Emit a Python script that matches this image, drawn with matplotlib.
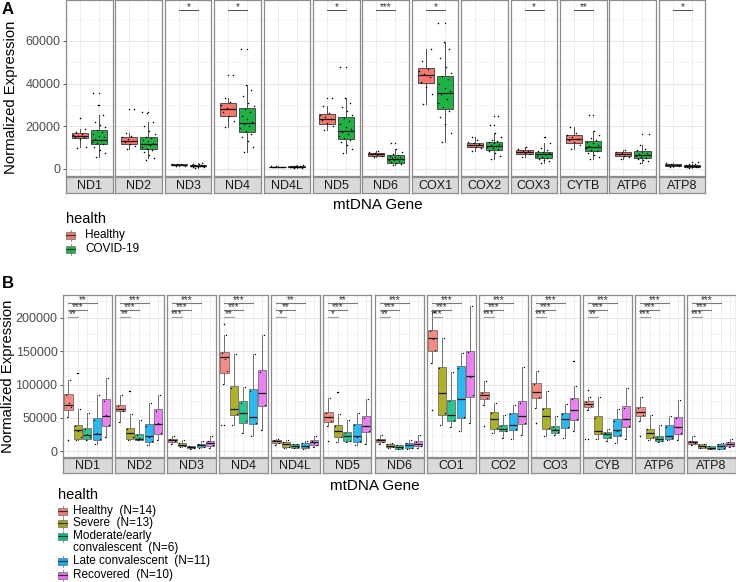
import numpy as np
import matplotlib.pyplot as plt
from matplotlib.patches import Rectangle

plt.rcParams['font.family'] = ['Liberation Sans', 'DejaVu Sans']

# ---------------- panel A data (values in thousands) ----------------
genes_a = ['ND1', 'ND2', 'ND3', 'ND4', 'ND4L', 'ND5', 'ND6',
           'COX1', 'COX2', 'COX3', 'CYTB', 'ATP6', 'ATP8']
groups_a = ['Healthy', 'COVID-19']
colors_a = ['#F8766D', '#1EB244']

# whislo, q1, med, q3, whishi
a_healthy_box = [
    [10.5, 14.7, 15.6, 16.7, 18.6], [9.4, 11.7, 13.3, 15.1, 17.0],
    [1.3, 1.7, 1.9, 2.1, 2.5], [19.8, 25.0, 28.0, 30.7, 33.4],
    [0.7, 0.9, 1.0, 1.1, 1.3], [18.3, 21.2, 23.5, 25.7, 29.5],
    [5.4, 6.1, 6.9, 7.6, 8.2], [30.3, 40.1, 44.0, 47.1, 56.0],
    [8.4, 10.3, 11.2, 12.3, 15.1], [5.8, 7.2, 8.0, 8.9, 10.5],
    [9.2, 12.0, 14.0, 15.9, 19.8], [4.5, 6.1, 7.0, 8.1, 8.9],
    [1.1, 1.5, 1.8, 2.1, 2.6]]
a_healthy_out = [[23.8], [27.9], [], [44.0], [], [33.4], [], [], [], [], [], [], []]

a_covid_box = [
    [5.8, 11.7, 13.6, 18.2, 25.3], [5.0, 9.4, 11.7, 14.8, 22.0],
    [0.6, 1.2, 1.5, 1.8, 2.6], [8.1, 17.5, 21.4, 28.7, 39.3],
    [0.5, 0.8, 1.0, 1.2, 1.7], [7.6, 13.9, 17.9, 24.5, 33.4],
    [1.9, 3.0, 4.7, 6.6, 9.5], [12.5, 27.9, 35.7, 43.5, 59.6],
    [4.5, 9.0, 10.9, 12.8, 16.7], [2.7, 5.3, 7.0, 8.1, 12.0],
    [4.5, 8.4, 10.5, 13.1, 17.8], [2.7, 5.3, 6.6, 8.6, 11.2],
    [0.5, 1.0, 1.3, 1.7, 2.4]]
a_covid_out = [[30.0, 35.5], [26.5], [], [56.2], [], [47.6], [12.0], [68.2],
               [20.5, 24.8], [15.1], [25.3], [16.4], [3.4]]

a_healthy_pts = [
    [9.6, 10.5, 13.9, 14.8, 15.2, 15.6, 16.0, 16.6, 17.4, 18.6, 23.8],
    [9.4, 10.8, 11.9, 12.6, 13.2, 13.9, 14.8, 15.4, 17.0, 27.9],
    [1.3, 1.6, 1.8, 1.9, 2.0, 2.1, 2.3, 2.5],
    [19.8, 22.5, 24.8, 26.5, 27.9, 28.8, 30.2, 31.5, 33.4, 44.0],
    [0.7, 0.9, 1.0, 1.0, 1.1, 1.2, 1.3],
    [18.3, 20.0, 21.5, 22.8, 23.6, 24.4, 25.5, 26.4, 29.5, 33.4],
    [5.4, 6.0, 6.4, 6.8, 7.1, 7.5, 7.9, 8.2],
    [30.3, 35.0, 38.5, 40.8, 43.0, 44.5, 45.8, 47.0, 50.5, 56.0],
    [8.4, 9.8, 10.5, 11.0, 11.5, 12.0, 12.6, 13.5, 15.1],
    [5.8, 6.9, 7.4, 7.9, 8.2, 8.6, 9.2, 10.5],
    [9.2, 11.0, 12.5, 13.4, 14.2, 15.0, 15.8, 17.0, 19.8],
    [4.5, 5.6, 6.3, 6.8, 7.2, 7.6, 8.1, 8.9],
    [1.1, 1.4, 1.6, 1.8, 2.0, 2.2, 2.6]]

a_covid_pts = [
    [5.8, 7.5, 9.0, 10.5, 11.5, 12.0, 12.8, 13.4, 14.0, 14.8, 15.6, 16.5, 17.4, 18.2, 19.5, 20.5, 22.0, 25.3, 30.0, 35.5],
    [4.0, 5.0, 6.5, 7.8, 8.8, 9.5, 10.2, 11.0, 11.6, 12.2, 12.9, 13.6, 14.3, 15.0, 16.5, 18.0, 20.0, 22.0, 26.0, 26.5],
    [0.6, 0.8, 1.0, 1.1, 1.2, 1.3, 1.4, 1.4, 1.5, 1.5, 1.6, 1.7, 1.8, 1.9, 2.0, 2.2, 2.4, 2.6],
    [8.1, 10.5, 13.0, 15.0, 16.5, 17.8, 19.0, 20.2, 21.0, 22.0, 23.5, 25.0, 26.5, 28.0, 29.5, 31.0, 34.0, 37.0, 39.3, 56.2],
    [0.5, 0.6, 0.7, 0.8, 0.9, 0.9, 1.0, 1.0, 1.1, 1.1, 1.2, 1.3, 1.4, 1.5, 1.7],
    [7.6, 9.5, 11.0, 12.5, 13.8, 14.5, 15.5, 16.5, 17.5, 18.5, 19.5, 21.0, 22.5, 24.0, 25.5, 27.0, 29.0, 31.0, 33.4, 47.6],
    [1.9, 2.4, 2.8, 3.2, 3.6, 4.0, 4.4, 4.7, 5.0, 5.4, 5.8, 6.2, 6.6, 7.2, 8.0, 9.5, 12.0],
    [12.5, 17.0, 21.0, 24.5, 27.0, 29.0, 31.0, 33.0, 35.0, 36.5, 38.0, 40.0, 42.0, 43.5, 45.0, 48.0, 52.0, 56.0, 59.6, 68.2],
    [4.5, 6.0, 7.5, 8.5, 9.2, 9.8, 10.4, 10.8, 11.2, 11.6, 12.0, 12.5, 13.0, 13.8, 15.0, 16.7, 20.5, 24.8],
    [2.7, 3.5, 4.2, 4.8, 5.3, 5.8, 6.3, 6.8, 7.1, 7.5, 7.9, 8.3, 9.0, 10.0, 12.0, 15.1],
    [4.5, 5.5, 6.5, 7.5, 8.3, 9.0, 9.7, 10.3, 10.8, 11.4, 12.0, 12.8, 13.5, 14.5, 16.0, 17.8, 25.3],
    [2.7, 3.5, 4.2, 4.8, 5.3, 5.8, 6.3, 6.7, 7.1, 7.6, 8.1, 8.7, 9.5, 11.2, 16.4],
    [0.5, 0.7, 0.9, 1.0, 1.1, 1.2, 1.3, 1.4, 1.5, 1.6, 1.7, 1.9, 2.1, 2.4, 3.4]]

a_signif = ['', '', '*', '*', '', '*', '***', '*', '', '*', '**', '', '*']
a_ticks = [0, 20000, 40000, 60000]

# ---------------- panel B data (values in thousands) ----------------
genes_b = ['ND1', 'ND2', 'ND3', 'ND4', 'ND4L', 'ND5', 'ND6',
           'CO1', 'CO2', 'CO3', 'CYB', 'ATP6', 'ATP8']
groups_b = ['Healthy  (N=14)', 'Severe  (N=13)', 'Moderate/early\nconvalescent  (N=6)',
            'Late convalescent  (N=11)', 'Recovered  (N=10)']
colors_b = ['#F8766D', '#A3A500', '#00BF7D', '#00B0F6', '#E76BF3']

# per gene: Healthy, Severe, Moderate, Late, Recovered -> whislo, q1, med, q3, whishi
b_box = [
    [[51.5, 61.5, 69.0, 85.5, 106.5], [16.5, 19.0, 31.5, 40.0, 64.0], [17.5, 19.0, 25.0, 35.5, 57.5], [10.5, 17.5, 26.5, 50.5, 85.0], [21.5, 37.5, 52.5, 78.0, 110.5]],
    [[44.0, 60.5, 64.0, 69.0, 84.0], [17.5, 19.0, 27.5, 35.5, 56.5], [16.5, 17.5, 19.0, 26.5, 46.5], [9.0, 14.0, 22.5, 40.5, 72.5], [16.5, 26.5, 40.5, 64.0, 85.0]],
    [[11.5, 14.0, 16.5, 19.0, 23.0], [6.5, 7.5, 10.0, 12.5, 16.5], [4.0, 5.0, 6.5, 8.0, 8.5], [5.0, 6.5, 9.0, 11.5, 15.0], [5.5, 8.0, 12.5, 15.5, 22.5]],
    [[101.5, 117.5, 140.5, 148.0, 174.0], [39.0, 54.0, 63.0, 97.5, 145.5], [27.5, 43.0, 57.5, 75.5, 96.5], [23.0, 41.5, 51.5, 94.0, 145.0], [31.5, 68.0, 87.5, 121.5, 174.0]],
    [[9.0, 13.0, 15.5, 17.5, 19.0], [4.5, 6.5, 11.5, 14.0, 17.0], [4.5, 5.5, 8.0, 10.5, 11.5], [4.0, 5.5, 8.0, 12.5, 15.0], [6.5, 9.0, 13.5, 16.5, 23.0]],
    [[38.0, 44.0, 51.5, 59.0, 80.5], [14.0, 21.5, 30.0, 39.0, 56.5], [14.0, 15.5, 23.0, 29.0, 46.5], [9.0, 14.0, 22.5, 40.5, 57.5], [11.5, 29.0, 38.0, 52.5, 78.0]],
    [[11.0, 14.0, 16.5, 19.0, 25.0], [4.5, 6.5, 8.5, 10.5, 12.5], [3.0, 4.0, 6.0, 9.0, 10.0], [3.5, 5.0, 9.0, 13.0, 17.0], [5.0, 7.5, 11.5, 15.0, 24.0]],
    [[131.5, 150.5, 169.0, 181.5, 208.0], [40.0, 55.0, 87.5, 126.5, 170.0], [36.5, 45.5, 54.0, 77.5, 118.0], [30.0, 50.5, 79.0, 128.0, 146.5], [42.5, 81.5, 112.5, 150.5, 217.5]],
    [[70.0, 79.0, 84.0, 89.0, 105.0], [28.0, 33.0, 49.0, 59.0, 73.0], [20.5, 30.0, 34.0, 39.0, 54.0], [18.0, 31.5, 39.0, 58.0, 69.0], [25.0, 40.5, 53.0, 75.5, 126.5]],
    [[65.0, 80.0, 89.0, 103.0, 120.5], [23.0, 33.0, 53.0, 65.0, 90.5], [25.0, 28.0, 32.5, 38.0, 52.5], [20.5, 35.0, 48.0, 58.0, 71.5], [30.0, 46.5, 62.5, 80.5, 97.5]],
    [[61.5, 66.5, 71.5, 75.0, 81.5], [19.0, 26.5, 30.0, 52.5, 81.5], [16.0, 20.0, 25.5, 29.0, 33.0], [13.0, 23.0, 31.5, 48.0, 64.0], [19.0, 36.5, 48.0, 67.5, 95.0]],
    [[45.0, 52.5, 59.0, 66.5, 81.5], [16.5, 20.5, 27.5, 34.0, 54.0], [14.0, 15.0, 19.0, 22.5, 40.0], [16.5, 19.0, 23.0, 39.0, 53.0], [16.5, 25.5, 36.5, 51.5, 76.5]],
    [[10.0, 11.5, 13.5, 15.5, 22.5], [4.5, 5.5, 8.0, 10.5, 11.5], [3.0, 4.0, 5.5, 7.5, 8.0], [3.0, 4.0, 8.0, 11.5, 13.0], [6.0, 7.5, 11.5, 14.0, 19.0]]]

b_pts = [
    [[51.5, 66, 72, 84, 106.5, 17.5], [16.5, 22, 31, 38, 64, 117.5], [17.5, 21, 26, 34, 57.5], [10.5, 18, 27, 47, 85], [21.5, 40, 55, 75, 110.5]],
    [[44, 61, 64, 68, 84], [17.5, 21, 28, 34, 56.5, 90.5], [16.5, 18, 20, 25, 46.5], [9, 15, 22, 38, 72.5], [16.5, 28, 42, 60, 85]],
    [[11.5, 15, 17, 19, 23], [6.5, 8, 10, 12, 16.5], [4, 5.5, 6.5, 8], [5, 7, 9, 11, 15], [5.5, 9, 12, 15, 22.5]],
    [[101.5, 120, 138, 147, 174, 190.5, 40], [39, 56, 64, 95, 145.5], [27.5, 45, 58, 73, 96.5], [23, 43, 52, 90, 145], [31.5, 70, 88, 118, 174]],
    [[9, 13, 15.5, 17.5, 19], [4.5, 7, 11, 14, 17], [4.5, 6, 8, 10.5, 11.5], [4, 6, 8, 12, 15], [6.5, 9.5, 13, 16, 23]],
    [[38, 45, 52, 58, 80.5, 15.5], [14, 22, 30, 38, 56.5, 89], [14, 16, 23, 28, 46.5], [9, 15, 22, 40, 57.5], [11.5, 30, 38, 50, 78]],
    [[11, 14.5, 16.5, 19, 25], [4.5, 7, 8.5, 10.5, 12.5], [3, 4.5, 6, 9], [3.5, 5.5, 9, 12.5, 17], [5, 8, 11.5, 14.5, 24]],
    [[131.5, 152, 168, 180, 208, 62.5], [40, 58, 88, 124, 170], [36.5, 47, 54, 76, 118], [30, 52, 78, 125, 146.5], [42.5, 85, 112, 148, 217.5]],
    [[70, 80, 84, 88, 105, 37.5], [28, 35, 49, 58, 73], [20.5, 31, 34, 38, 54], [18, 33, 39, 56, 69], [25, 42, 53, 72, 126.5]],
    [[65, 82, 89, 101, 120.5, 42.5], [23, 35, 53, 63, 90.5], [25, 29, 33, 37, 52.5], [20.5, 36, 48, 56, 71.5], [30, 48, 62, 78, 97.5, 135.5]],
    [[61.5, 68, 71.5, 74, 81.5, 92.5, 19], [19, 27, 30, 50, 81.5], [16, 21, 25.5, 28, 33], [13, 24, 31, 46, 64], [19, 38, 48, 65, 95]],
    [[45, 54, 59, 65, 81.5, 23], [16.5, 22, 27.5, 33, 54], [14, 16, 19, 22, 40], [16.5, 20, 23, 37, 53], [16.5, 27, 36, 50, 76.5]],
    [[10, 12, 13.5, 15, 22.5], [4.5, 6, 8, 10, 11.5], [3, 4.5, 5.5, 7.5], [3, 4.5, 8, 11, 13], [6, 8, 11.5, 13.5, 19]]]

b_out = [
    [[17.5], [117.5], [], [], []], [[], [90.5], [], [], []], [[], [], [], [], []],
    [[40.0, 190.5], [], [], [], []], [[], [], [], [], []], [[15.5], [89.0], [], [], []],
    [[], [], [], [], []], [[62.5], [], [], [], []], [[37.5], [], [], [], []],
    [[42.5], [], [], [], [135.5]], [[92.5, 19.0], [], [], [], []], [[23.0], [], [], [], []],
    [[], [], [], [], []]]

# Healthy vs Severe, Healthy vs Moderate, Healthy vs Late
b_signif = [
    ['**', '***', '**'], ['**', '***', '***'], ['***', '***', '***'], ['**', '***', '***'],
    ['*', '**', '**'], ['*', '***', '**'], ['**', '***', '***'], ['***', '***', '***'],
    ['***', '***', '***'], ['***', '***', '***'], ['**', '***', '***'], ['***', '***', '***'],
    ['***', '***', '***']]
b_ticks = [0, 50000, 100000, 150000, 200000]

# ---------------- layout helpers ----------------
W, H = 736, 582
fig = plt.figure(figsize=(W / 100, H / 100), dpi=100)


def px_axes(x0, y0, x1, y1):
    return fig.add_axes([x0 / W, 1 - y1 / H, (x1 - x0) / W, (y1 - y0) / H])


def jitter(n, width):
    return ((np.arange(n) * 0.618 + 0.3) % 1 - 0.5) * width


def style_panel(ax, ylim, ticks, minor, xcenters, first):
    ax.set_xlim(0, 1)
    ax.set_ylim(*ylim)
    for y in minor:
        ax.axhline(y, color='#F2F2F2', lw=0.5, zorder=0)
    for y in ticks:
        ax.axhline(y, color='#E5E5E5', lw=0.7, zorder=0)
    for x in xcenters:
        ax.axvline(x, color='#EBEBEB', lw=0.6, zorder=0)
    for s in ax.spines.values():
        s.set_color('#8C8C8C')
        s.set_linewidth(0.9)
    ax.set_xticks([])
    ax.set_yticks(ticks)
    ax.tick_params(axis='y', length=2.5, width=0.6, color='#333333', pad=1.5,
                   labelsize=9, labelcolor='#4D4D4D')
    if not first:
        ax.set_yticklabels([])
        ax.tick_params(axis='y', length=0)
    else:
        ax.set_yticklabels([str(t) for t in ticks])


def strip(x0, x1, y0, y1, label):
    sx = px_axes(x0, y0, x1, y1)
    sx.set_facecolor('#D9D9D9')
    sx.set_xticks([])
    sx.set_yticks([])
    for s in sx.spines.values():
        s.set_color('#8C8C8C')
        s.set_linewidth(0.9)
    sx.text(0.5, 0.45, label, ha='center', va='center', fontsize=9,
            color='#1A1A1A', transform=sx.transAxes)


def draw_boxes(ax, stats, outs, pts, cols, centers, width, alpha, edge, jw, psize):
    for k in range(len(stats)):
        lo, q1, med, q3, hi = [v * 1000 for v in stats[k]]
        st = [{'whislo': lo, 'q1': q1, 'med': med, 'q3': q3, 'whishi': hi,
               'fliers': [v * 1000 for v in outs[k]]}]
        ax.bxp(st, positions=[centers[k]], widths=width, patch_artist=True,
               showcaps=False, manage_ticks=False,
               boxprops=dict(facecolor=cols[k], edgecolor=edge, linewidth=0.7, alpha=alpha),
               medianprops=dict(color='#1A1A1A', linewidth=0.9),
               whiskerprops=dict(color=edge, linewidth=0.7),
               flierprops=dict(marker='o', markersize=1.0, markerfacecolor='black',
                               markeredgecolor='none'))
        vals = np.array(pts[k]) * 1000
        ax.scatter(centers[k] + jitter(len(vals), jw), vals, s=psize, color='black',
                   linewidths=0, zorder=5)


# overlay for annotation text / legends
lax = px_axes(0, 0, W, H)
lax.set_xlim(0, W)
lax.set_ylim(H, 0)
lax.axis('off')

# ---------------- panel A ----------------
a_left, a_top, a_bot = 66, 0, 176
a_pitch, a_w = 49.4, 46.5
a_centers = [0.3, 0.71]
for i, g in enumerate(genes_a):
    x0 = a_left + i * a_pitch
    ax = px_axes(x0, a_top, x0 + a_w, a_bot)
    style_panel(ax, (-3300, 79200), a_ticks, [10000, 30000, 50000, 70000],
                a_centers, i == 0)
    draw_boxes(ax, [a_healthy_box[i], a_covid_box[i]], [a_healthy_out[i], a_covid_out[i]],
               [a_healthy_pts[i], a_covid_pts[i]], colors_a, a_centers, 0.35, 1.0,
               '#4D4D4D', 0.3, 1.2)
    if a_signif[i]:
        ax.plot(a_centers, [74500, 74500], color='#4D4D4D', lw=0.7)
        ax.text(np.mean(a_centers), 74500, a_signif[i], ha='center', va='baseline',
                fontsize=7, color='#333333')
    strip(x0, x0 + a_w, a_bot + 1, a_bot + 17, g)

lax.text(2, 10, 'A', fontsize=12, fontweight='bold', va='center', ha='left')
lax.text(11, 97, 'Normalized Expression', rotation=90, fontsize=10.7,
         ha='center', va='center')
lax.text(378, 205, 'mtDNA Gene', fontsize=11, ha='center', va='center')


def legend(title, labels, cols, x, ytitle, rows, xt):
    lax.text(x, ytitle, title, fontsize=10.5, ha='left', va='center')
    for lab, c, y in zip(labels, cols, rows):
        lax.plot([x + 4.5, x + 4.5], [y - 5.5, y + 5.5], color='#7F7F7F', lw=0.6)
        lax.add_patch(Rectangle((x, y - 3.5), 9, 7, facecolor=c, edgecolor='#7F7F7F',
                                lw=0.6, zorder=3))
        lax.plot([x, x + 9], [y, y], color='#333333', lw=0.8, zorder=4)
        for j, line in enumerate(lab.split('\n')):
            lax.text(xt, y + 12 * j, line, fontsize=8.5, ha='left', va='center')


legend('health', groups_a, colors_a, 66, 219, [235, 249], 85)

# ---------------- panel B ----------------
b_left, b_top, b_bot = 63, 295, 457
b_pitch, b_w = 52, 48.5
b_centers = [0.113, 0.305, 0.5, 0.695, 0.887]
for i, g in enumerate(genes_b):
    x0 = b_left + i * b_pitch
    ax = px_axes(x0, b_top, x0 + b_w, b_bot)
    style_panel(ax, (-8500, 234000), b_ticks, [25000, 75000, 125000, 175000, 225000],
                b_centers, i == 0)
    draw_boxes(ax, b_box[i], b_out[i], b_pts[i], colors_b, b_centers, 0.17, 0.85,
               '#6E6E6E', 0.14, 0.9)
    for k, (lab, yv) in enumerate(zip(b_signif[i], [201500, 211500, 221500])):
        xe = b_centers[k + 1]
        ax.plot([b_centers[0], xe], [yv, yv], color='#A0A0A0' if k == 0 else '#7A7A7A', lw=0.8)
        ax.text((b_centers[0] + xe) / 2, yv, lab, ha='center', va='baseline',
                fontsize=7, color='#333333')
    strip(x0, x0 + b_w, b_bot + 1, b_bot + 16, g)

lax.text(2, 283, 'B', fontsize=12, fontweight='bold', va='center', ha='left')
lax.text(8.5, 376, 'Normalized Expression', rotation=90, fontsize=10.7,
         ha='center', va='center')
lax.text(375, 486, 'mtDNA Gene', fontsize=11, ha='center', va='center')

legend('health', groups_b, colors_b, 58, 495, [511, 523, 536, 561, 575], 73)

fig.savefig('out.png', dpi=100)
